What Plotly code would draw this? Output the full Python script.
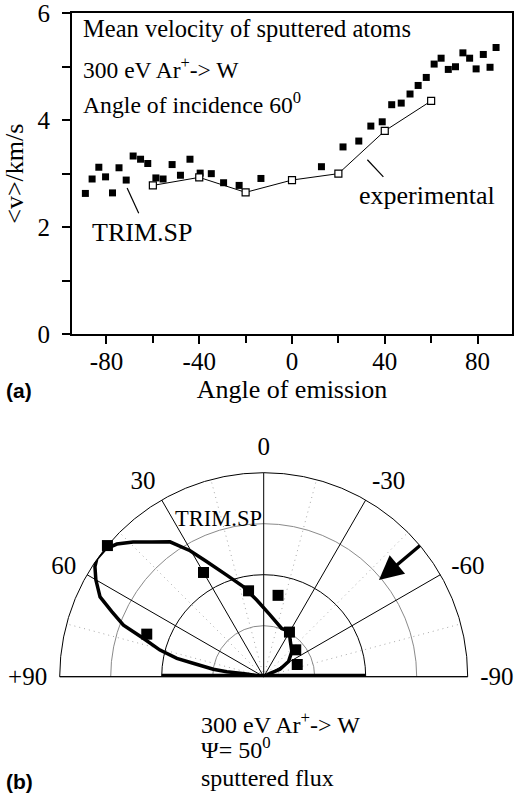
import plotly.graph_objects as go

W, H = 518, 801
SERIF = "Liberation Serif"

# ---------------- (a) mean velocity vs angle of emission ----------------
trim_angle = [-89.1, -86.2, -83.3, -80.4, -77.4, -74.6, -71.5, -68.5, -65.3, -62.2,
              -58.7, -55.6, -51.7, -48.1, -44.0, -39.6, -34.8, -29.5, -22.8, -13.4,
              12.7, 22.0, 28.8, 34.0, 38.9, 43.0, 47.1, 50.9, 54.4, 57.9,
              61.3, 64.3, 67.4, 70.5, 73.7, 76.6, 79.4, 82.5, 85.4, 88.0]
trim_v = [2.63, 2.90, 3.12, 2.94, 2.64, 3.11, 2.88, 3.33, 3.27, 3.19,
          2.92, 2.90, 3.17, 2.97, 3.27, 3.01, 3.00, 2.83, 2.78, 2.91,
          3.13, 3.50, 3.61, 3.89, 3.97, 4.29, 4.32, 4.49, 4.65, 4.80,
          5.05, 5.16, 4.95, 5.00, 5.26, 5.16, 4.96, 5.23, 4.99, 5.36]

exp_angle = [-60, -40, -20, 0, 20, 40, 60]
exp_v = [2.78, 2.93, 2.65, 2.88, 3.00, 3.80, 4.36]

x_ticks = [-80, -40, 0, 40, 80]
x_ticktext = ["-80", "-40", "0", "40", "80"]
x_minor = [-60, -20, 20, 60]
y_ticks = [0, 2, 4, 6]
y_minor = [1, 3, 5]

# ---------------- (b) polar sputtered flux ----------------
flux_theta = [70, 50, 30, 10, -10, -30, -50, -70]
flux_r = [2.44, 4.00, 2.36, 1.71, 1.62, 1.01, 0.82, 0.70]

lobe_theta = [80, 81.0, 82.3, 81.6, 79.2, 78.1, 75.6, 72.3, 69.8, 66.8, 64.0, 60.0,
              56.9, 54.7, 51.2, 47.9, 44.1, 39.7, 34.8, 30.3, 26.4, 20.0, 12.8, 5.2,
              -5.8, -20.4, -29.6, -35.6, -48.2, -58.6, -65.6, -62.0, -60.0]
lobe_r = [0, 0.34, 0.73, 1.00, 1.41, 1.74, 2.10, 2.48, 2.93, 3.24, 3.57, 3.80,
          3.95, 4.01, 3.99, 3.88, 3.68, 3.43, 3.22, 2.86, 2.52, 2.12, 1.81, 1.51,
          1.22, 1.01, 1.02, 0.89, 0.74, 0.57, 0.35, 0.14, 0]

surface_theta = [90, -90]
surface_r = [2, 2]

# incident ion beam arrow (tail, tip), along psi = 50 deg
beam_theta = [-50, -50]
beam_r = [4.45, 2.95]

polar_major = [-90, -60, -30, 0, 30, 60, 90]
polar_major_text = ["-90", "-60", "-30", "0", "30", "60", "+90"]
polar_minor = [-75, -45, -15, 15, 45, 75]
ring_minor = [1, 3]
ring_major = [2]

fig = go.Figure()

fig.add_trace(go.Scatter(x=trim_angle, y=trim_v, mode="markers",
                         marker=dict(symbol="square", size=7, color="black"),
                         showlegend=False, cliponaxis=False))
fig.add_trace(go.Scatter(x=exp_angle, y=exp_v, mode="lines+markers",
                         line=dict(color="black", width=1),
                         marker=dict(symbol="square", size=7, color="white",
                                     line=dict(color="black", width=1.2)),
                         showlegend=False))

# empty trace so that the gray-grid polar subplot is drawn
fig.add_trace(go.Scatterpolar(theta=[], r=[], mode="markers", subplot="polar",
                              showlegend=False, hoverinfo="skip"))

fig.add_trace(go.Scatterpolar(theta=lobe_theta, r=lobe_r, mode="lines",
                              line=dict(color="black", width=3.5),
                              subplot="polar2", showlegend=False, cliponaxis=False))
fig.add_trace(go.Scatterpolar(theta=surface_theta, r=surface_r, mode="lines",
                              line=dict(color="black", width=6),
                              subplot="polar2", showlegend=False, cliponaxis=False))
fig.add_trace(go.Scatterpolar(theta=flux_theta, r=flux_r, mode="markers",
                              marker=dict(symbol="square", size=11, color="black"),
                              subplot="polar2", showlegend=False, cliponaxis=False))
# arrow shaft (stops just short of the tip so the head covers its end)
fig.add_trace(go.Scatterpolar(theta=beam_theta, r=[beam_r[0], beam_r[1] + 0.2],
                              mode="lines", line=dict(color="black", width=3.3),
                              subplot="polar2", showlegend=False, cliponaxis=False))
# arrow head, tip exactly at the beam tip
fig.add_trace(go.Scatterpolar(theta=[beam_theta[1]], r=[beam_r[1]], mode="markers",
                              marker=dict(symbol="arrow-up", size=24, angle=230,
                                          color="black", line=dict(width=0)),
                              subplot="polar2", showlegend=False, cliponaxis=False))

tick_font = dict(family=SERIF, size=25, color="black")
title_font = dict(family=SERIF, size=26, color="black")

pdom = dict(x=[59.7 / W, 467.7 / W], y=[(H - 676.7) / H, (H - 472.7) / H])

fig.update_layout(
    width=W, height=H,
    margin=dict(l=0, r=0, t=0, b=0),
    paper_bgcolor="white", plot_bgcolor="white",
    font=dict(family=SERIF, size=24, color="black"),
    xaxis=dict(domain=[71.7 / W, 512.3 / W], range=[-95, 95],
               tickmode="array", tickvals=x_ticks, ticktext=x_ticktext,
               ticks="outside", ticklen=8, tickwidth=1.5, tickcolor="black",
               minor=dict(tickvals=x_minor, ticks="outside", ticklen=7,
                          tickwidth=1.5, tickcolor="black"),
               showline=True, linecolor="black", linewidth=1.5, mirror=True,
               showgrid=False, zeroline=False, tickfont=tick_font,
               ticklabelstandoff=-4,
               title=dict(text="Angle of emission", font=title_font, standoff=0),
               automargin=False),
    yaxis=dict(domain=[(H - 334) / H, (H - 13.3) / H], range=[0, 6],
               tickmode="array", tickvals=y_ticks, ticktext=[str(v) for v in y_ticks],
               ticks="outside", ticklen=8, tickwidth=1.5, tickcolor="black",
               minor=dict(tickvals=y_minor, ticks="outside", ticklen=8,
                          tickwidth=1.5, tickcolor="black"),
               showline=True, linecolor="black", linewidth=1.5, mirror=True,
               showgrid=False, zeroline=False, tickfont=tick_font,
               ticklabelstandoff=7,
               title=dict(text="&lt;v&gt;/km/s", font=title_font, standoff=6),
               automargin=False),
    polar=dict(
        domain=pdom, sector=[0, 180], bgcolor="rgba(0,0,0,0)",
        radialaxis=dict(range=[0, 4], tickmode="array", tickvals=ring_minor,
                        showticklabels=False, ticks="", showline=False,
                        gridcolor="#8a8a8a", gridwidth=1),
        angularaxis=dict(rotation=90, direction="counterclockwise",
                         tickmode="array", tickvals=polar_minor,
                         showticklabels=False, ticks="", showline=False,
                         gridcolor="#a8a8a8", gridwidth=1, griddash="1px,4px"),
    ),
    polar2=dict(
        domain=pdom, sector=[0, 180], bgcolor="rgba(0,0,0,0)",
        radialaxis=dict(range=[0, 4], tickmode="array", tickvals=ring_major,
                        showticklabels=False, ticks="", showline=False,
                        gridcolor="black", gridwidth=1),
        angularaxis=dict(rotation=90, direction="counterclockwise",
                         tickmode="array", tickvals=polar_major,
                         ticktext=polar_major_text, ticks="outside", ticklen=7,
                         tickcolor="rgba(0,0,0,0)",
                         showline=True, linecolor="black", linewidth=1,
                         gridcolor="black", gridwidth=1,
                         tickfont=dict(family=SERIF, size=25, color="black")),
    ),
)

# pointer lines for panel (a)
fig.add_shape(type="line", xref="x", yref="y", x0=-71.1, y0=2.73, x1=-66.1, y1=2.26,
              line=dict(color="black", width=1.2))
fig.add_shape(type="line", xref="x", yref="y", x0=32.5, y0=3.26, x1=39.4, y1=2.94,
              line=dict(color="black", width=1.2))


def ann(text, x, y, xref="paper", yref="paper", size=24, xanchor="left",
        family=SERIF, bold=False):
    fig.add_annotation(text=("<b>%s</b>" % text) if bold else text, x=x, y=y,
                       xref=xref, yref=yref, showarrow=False, xanchor=xanchor,
                       yanchor="middle", font=dict(family=family, size=size, color="black"))


ann("Mean velocity of sputtered atoms", -91.2, 5.72, "x", "y", size=24.5)
ann("300 eV Ar<sup>+</sup>-> W", -91.2, 4.97, "x", "y", size=23.5)
ann("Angle of incidence 60<sup>0</sup>", -91.2, 4.32, "x", "y", size=23.7)
ann("TRIM.SP", -87.2, 1.89, "x", "y", size=26)
ann("experimental", 27.9, 2.60, "x", "y", size=26)

ann("(a)", 4 / W, (H - 390) / H, family="Liberation Sans", size=21, bold=True)
ann("(b)", 4 / W, (H - 781.7) / H, family="Liberation Sans", size=21, bold=True)

ann("TRIM.SP", 173 / W, (H - 518) / H, size=22.5)
ann("300 eV Ar<sup>+</sup>-> W", 199 / W, (H - 723.3) / H)
ann("\u03a8= 50<sup>0</sup>", 199 / W, (H - 748.3) / H)
ann("sputtered flux", 199 / W, (H - 778.3) / H)

fig.write_html("out.html")
